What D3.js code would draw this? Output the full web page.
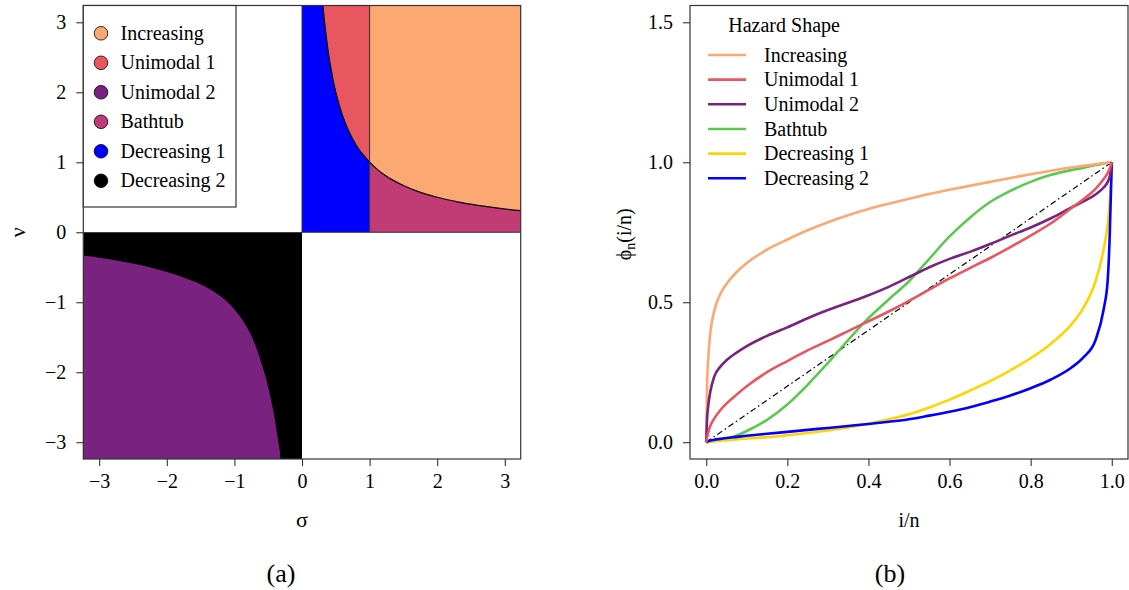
<!DOCTYPE html>
<html><head><meta charset="utf-8">
<script src="https://cdn.jsdelivr.net/npm/d3@7"></script>
<style>
body{margin:0;background:#fff;}
svg{display:block;}
svg text{font-family:"Liberation Serif","Times New Roman",serif !important;fill:#000;}
</style></head><body>
<svg id="chart" width="1129" height="590"></svg>
<script>
// ================= Panel (a) data =================
const regionNames = ["Increasing","Unimodal 1","Unimodal 2","Bathtub","Decreasing 1","Decreasing 2"];
const regionColors = ["#FCA873","#E8565F","#7A2280","#C13B75","#0000FF","#000000"];
const sigmaLim = [-3.235, 3.235];
const nuLim = [-3.24, 3.24];
const sigmaTicks = [-3,-2,-1,0,1,2,3];
const nuTicks = [-3,-2,-1,0,1,2,3];
// boundary curve in the upper-right quadrant (passes through (1,1))
const upperSigma = [0.25,0.28,0.309,0.33,0.35,0.375,0.4,0.43,0.46,0.5,0.55,0.6,0.67,0.75,0.83,0.9,1.0,1.1,1.2,1.35,1.5,1.7,2.0,2.3,2.6,2.9,3.235,3.4];
const upperNu    = [4.0,3.57,3.24,3.03,2.86,2.67,2.5,2.33,2.17,2.0,1.82,1.667,1.49,1.333,1.2,1.111,1.0,0.909,0.833,0.741,0.667,0.588,0.5,0.435,0.385,0.345,0.309,0.294];
// boundary of the Unimodal 2 region in the lower-left quadrant
const lowerSigma = [-3.4,-3.235,-2.75,-2.256,-1.763,-1.369,-1.073,-0.876,-0.728,-0.605,-0.506,-0.432,-0.358,-0.318,-0.31];
const lowerNu    = [-0.32,-0.333,-0.405,-0.5,-0.643,-0.81,-1.024,-1.262,-1.524,-1.857,-2.19,-2.52,-2.95,-3.24,-3.4];

// ================= Panel (b) data =================
const hazardNames = ["Increasing","Unimodal 1","Unimodal 2","Bathtub","Decreasing 1","Decreasing 2"];
const hazardColors = ["#FCA873","#E8565F","#7A2280","#5DC850","#FFD400","#0000FF"];
const tGrid = [0,0.002,0.005,0.01,0.02,0.035,0.05,0.075,0.1,0.15,0.2,0.25,0.3,0.35,0.4,0.45,0.5,0.55,0.6,0.65,0.7,0.75,0.8,0.85,0.9,0.93,0.96,0.98,0.99,0.995,1];
const phiIncreasing = [0,0.2,0.3,0.39,0.47,0.53,0.565,0.608,0.64,0.688,0.724,0.757,0.786,0.811,0.833,0.852,0.87,0.887,0.902,0.916,0.93,0.944,0.957,0.97,0.981,0.987,0.993,0.997,0.998,0.999,1];
const phiUnimodal1 = [0,0.015,0.035,0.058,0.085,0.115,0.138,0.17,0.2,0.25,0.29,0.328,0.362,0.397,0.432,0.467,0.505,0.545,0.585,0.622,0.658,0.697,0.738,0.782,0.836,0.868,0.905,0.94,0.962,0.978,1];
const phiUnimodal2 = [0,0.08,0.13,0.18,0.235,0.27,0.293,0.32,0.343,0.38,0.41,0.443,0.472,0.498,0.525,0.555,0.59,0.625,0.655,0.68,0.708,0.738,0.767,0.8,0.838,0.86,0.885,0.91,0.93,0.95,1];
const phiBathtub   = [0,0,0.001,0.002,0.004,0.008,0.013,0.024,0.04,0.08,0.135,0.205,0.283,0.365,0.443,0.51,0.575,0.655,0.735,0.802,0.858,0.898,0.93,0.955,0.972,0.98,0.99,0.995,0.998,0.999,1];
const phiDecreasing1 = [0,0,0.001,0.002,0.003,0.005,0.007,0.01,0.013,0.018,0.025,0.033,0.042,0.053,0.066,0.082,0.1,0.124,0.152,0.184,0.218,0.257,0.30,0.352,0.42,0.48,0.575,0.69,0.78,0.86,1];
const phiDecreasing2 = [0,0.002,0.004,0.006,0.009,0.012,0.015,0.019,0.023,0.03,0.037,0.044,0.051,0.058,0.065,0.073,0.082,0.095,0.109,0.125,0.145,0.167,0.193,0.224,0.266,0.303,0.365,0.475,0.58,0.74,1];
const phiSeries = [phiIncreasing, phiUnimodal1, phiUnimodal2, phiBathtub, phiDecreasing1, phiDecreasing2];
const iTicks = [0,0.2,0.4,0.6,0.8,1.0];
const phiTicks = [0,0.5,1.0,1.5];
const iLim = [-0.04, 1.04];
const phiLim = [-0.06, 1.56];

// ================= Drawing =================
const svg = d3.select("#chart");
const FS = 20;
const FONT = "Liberation Serif";
const frameCol = "#333";

// ---------- Panel (a) ----------
const A = {l:83.3, r:520.7, t:5.5, b:459};
const xA = d3.scaleLinear().domain(sigmaLim).range([A.l, A.r]);
const yA = d3.scaleLinear().domain(nuLim).range([A.b, A.t]);
svg.append("clipPath").attr("id","clipA").append("rect")
  .attr("x",A.l).attr("y",A.t).attr("width",A.r-A.l).attr("height",A.b-A.t);
const gA = svg.append("g").attr("clip-path","url(#clipA)");
const colA = n => regionColors[regionNames.indexOf(n)];

const upper = upperSigma.map((s,i)=>[s, upperNu[i]]);
const lower = lowerSigma.map((s,i)=>[s, lowerNu[i]]);
const big = 10;

gA.append("rect").attr("x",xA(0)).attr("y",yA(nuLim[1]))
  .attr("width",xA(1)-xA(0)).attr("height",yA(0)-yA(nuLim[1])).attr("fill",colA("Decreasing 1"));
const areaAbove = d3.area().x(d=>xA(d[0])).y0(yA(big)).y1(d=>yA(d[1])).curve(d3.curveMonotoneX);
const areaBelow = d3.area().x(d=>xA(d[0])).y0(yA(0)).y1(d=>yA(d[1])).curve(d3.curveMonotoneX);
gA.append("path").datum(upper.filter(d=>d[0]<=1)).attr("d",areaAbove).attr("fill",colA("Unimodal 1"));
gA.append("path").datum(upper.filter(d=>d[0]>=1)).attr("d",areaAbove).attr("fill",colA("Increasing"));
gA.append("path").datum(upper.filter(d=>d[0]>=1)).attr("d",areaBelow).attr("fill",colA("Bathtub"));
gA.append("rect").attr("x",xA(sigmaLim[0])).attr("y",yA(0))
  .attr("width",xA(0)-xA(sigmaLim[0])).attr("height",yA(nuLim[0])-yA(0)).attr("fill",colA("Decreasing 2"));
const areaUnder = d3.area().x(d=>xA(d[0])).y0(yA(-big)).y1(d=>yA(d[1])).curve(d3.curveMonotoneX);
gA.append("path").datum(lower).attr("d",areaUnder).attr("fill",colA("Unimodal 2"));
gA.append("path").datum(upper).attr("fill","none").attr("stroke","#000").attr("stroke-width",1.2)
  .attr("d", d3.line().x(d=>xA(d[0])).y(d=>yA(d[1])).curve(d3.curveMonotoneX));
gA.append("line").attr("x1",xA(1)).attr("x2",xA(1)).attr("y1",yA(0)).attr("y2",yA(nuLim[1]))
  .attr("stroke",frameCol).attr("stroke-width",1);
gA.append("line").attr("x1",xA(0)).attr("x2",xA(0)).attr("y1",yA(0)).attr("y2",yA(nuLim[1]))
  .attr("stroke",frameCol).attr("stroke-width",1);
gA.append("line").attr("x1",xA(0)).attr("x2",xA(sigmaLim[1])).attr("y1",yA(0)).attr("y2",yA(0))
  .attr("stroke",frameCol).attr("stroke-width",1);

svg.append("rect").attr("x",A.l).attr("y",A.t).attr("width",A.r-A.l).attr("height",A.b-A.t)
  .attr("fill","none").attr("stroke",frameCol).attr("stroke-width",1.2);

function styleAxis(g){
  g.attr("font-family",FONT).attr("font-size",FS);
  g.select(".domain").remove();
  g.selectAll(".tick line").attr("stroke",frameCol).attr("stroke-width",1.1);
  g.selectAll(".tick text").style("font-family",FONT).style("font-size",FS+"px").attr("fill","#000");
}
const fmtMinus = d => (d<0?"\u2212":"")+Math.abs(d);
svg.append("g").attr("transform",`translate(0,${A.b})`)
  .call(d3.axisBottom(xA).tickValues(sigmaTicks).tickFormat(fmtMinus).tickSize(7).tickPadding(8))
  .call(styleAxis);
svg.append("g").attr("transform",`translate(${A.l},0)`)
  .call(d3.axisLeft(yA).tickValues(nuTicks).tickFormat(fmtMinus).tickSize(7).tickPadding(10))
  .call(styleAxis);

svg.append("text").attr("x",xA(0)).attr("y",527).attr("text-anchor","middle")
  .attr("font-size",22).text("σ");
svg.append("text").attr("transform",`translate(25,${yA(0)}) rotate(-90)`).attr("text-anchor","middle")
  .attr("font-size",22).text("ν");
svg.append("text").attr("x",281).attr("y",582).attr("text-anchor","middle")
  .attr("font-size",26).text("(a)");

const legA = svg.append("g");
legA.append("rect").attr("x",A.l).attr("y",A.t).attr("width",236-A.l).attr("height",207-A.t)
  .attr("fill","#fff").attr("stroke",frameCol).attr("stroke-width",1.2);
regionNames.forEach((n,i)=>{
  const y = 33.3 + i*29.5;
  legA.append("circle").attr("cx",101).attr("cy",y).attr("r",6.8)
    .attr("fill",regionColors[i]).attr("stroke","#000").attr("stroke-width",0.8);
  legA.append("text").attr("x",120.5).attr("y",y).attr("dy","0.33em").attr("font-size",FS).text(n);
});

// ---------- Panel (b) ----------
const B = {l:690, r:1128, t:5.5, b:459};
const xB = d3.scaleLinear().domain(iLim).range([B.l, B.r]);
const yB = d3.scaleLinear().domain(phiLim).range([B.b, B.t]);
svg.append("clipPath").attr("id","clipB").append("rect")
  .attr("x",B.l).attr("y",B.t).attr("width",B.r-B.l).attr("height",B.b-B.t);
const gB = svg.append("g").attr("clip-path","url(#clipB)");

gB.append("line").attr("x1",xB(0)).attr("y1",yB(0)).attr("x2",xB(1)).attr("y2",yB(1))
  .attr("stroke","#000").attr("stroke-width",1.2).attr("stroke-dasharray","6,3,1.5,3");

const lineB = d3.line().x(d=>xB(d[0])).y(d=>yB(d[1])).curve(d3.curveMonotoneX);
const drawOrder = [3,0,4,5,2,1];
drawOrder.forEach(k=>{
  gB.append("path").datum(tGrid.map((t,i)=>[t, phiSeries[k][i]]))
    .attr("d",lineB).attr("fill","none").attr("stroke",hazardColors[k]).attr("stroke-width",2.6);
});

svg.append("rect").attr("x",B.l).attr("y",B.t).attr("width",B.r-B.l).attr("height",B.b-B.t)
  .attr("fill","none").attr("stroke",frameCol).attr("stroke-width",1.2);

svg.append("g").attr("transform",`translate(0,${B.b})`)
  .call(d3.axisBottom(xB).tickValues(iTicks).tickFormat(d3.format(".1f")).tickSize(7).tickPadding(8))
  .call(styleAxis);
svg.append("g").attr("transform",`translate(${B.l},0)`)
  .call(d3.axisLeft(yB).tickValues(phiTicks).tickFormat(d3.format(".1f")).tickSize(7).tickPadding(10))
  .call(styleAxis);

svg.append("text").attr("x",xB(0.5)).attr("y",527).attr("text-anchor","middle")
  .attr("font-size",FS).text("i/n");
const yl = svg.append("text").attr("transform",`translate(631,${yB(0.5)-68}) rotate(-90)`)
  .attr("text-anchor","middle").attr("font-size",FS);
yl.append("tspan").text("ϕ");
yl.append("tspan").attr("font-size",14).attr("dy",4).text("n");
yl.append("tspan").attr("dy",-4).text("(i/n)");
svg.append("text").attr("x",890).attr("y",582).attr("text-anchor","middle")
  .attr("font-size",26).text("(b)");

const legB = svg.append("g");
legB.append("text").attr("x",728.3).attr("y",25).attr("dy","0.33em").attr("font-size",FS).text("Hazard Shape");
hazardNames.forEach((n,i)=>{
  const y = 55 + i*24.65;
  legB.append("line").attr("x1",708).attr("x2",746).attr("y1",y).attr("y2",y)
    .attr("stroke",hazardColors[i]).attr("stroke-width",2.6);
  legB.append("text").attr("x",764).attr("y",y).attr("dy","0.33em").attr("font-size",FS).text(n);
});
</script>
</body></html>
